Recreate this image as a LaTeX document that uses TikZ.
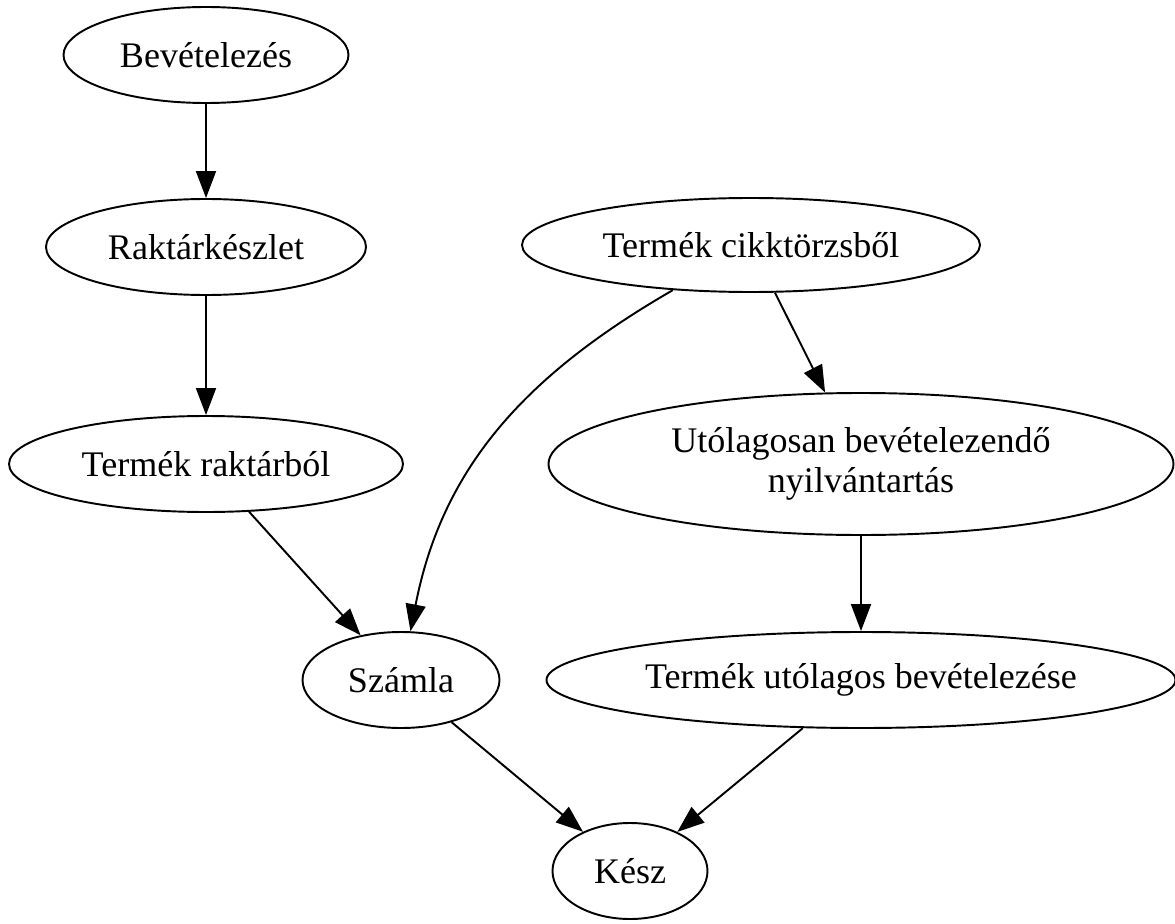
\documentclass[tikz,border=0pt]{standalone}
\usepackage{fontspec}
\setmainfont{Liberation Serif}
\usetikzlibrary{positioning,arrows.meta,shapes.geometric}
\tikzset{
  flowarrow/.style={-{Triangle[length=5.4mm, width=4.0mm]}, line width=1.1pt},
  stagenode/.style={draw, ellipse, line width=1.1pt, inner sep=0pt, minimum height=1.92cm, align=center, font=\fontsize{20.5}{22.5}\selectfont}
}

\begin{document}
\begin{tikzpicture}
  \useasboundingbox (0,0) rectangle (23.5,18.46);
  \node[stagenode, minimum width=5.7cm] (bev) at (4.12,17.36) {Bevételezés};
  \node[stagenode, minimum width=6.4cm] (rak) at (4.12,13.52) {Raktárkészlet};
  \node[stagenode, minimum width=9.16cm, minimum height=1.88cm] (cikk) at (15.02,13.56) {Termék cikktörzsből};
  \node[stagenode, minimum width=7.88cm] (trak) at (4.12,9.18) {Termék raktárból};
  \node[stagenode, minimum width=12.5cm, minimum height=2.84cm] (utol) at (17.22,9.18) {Utólagosan bevételezendő\\nyilvántartás};
  \node[stagenode, minimum width=3.94cm] (szamla) at (8.02,4.86) {Számla};
  \node[stagenode, minimum width=12.58cm] (tub) at (17.22,4.86) {Termék utólagos bevételezése};
  \node[stagenode, minimum width=3.1cm] (kesz) at (12.6,1.04) {Kész};
  \draw[flowarrow] (bev) -- (rak);
  \draw[flowarrow] (rak) -- (trak);
  \draw[flowarrow] (trak) -- (szamla);
  \draw[flowarrow] (cikk) to[out=210, in=79] (szamla);
  \draw[flowarrow] (cikk) -- (utol);
  \draw[flowarrow] (utol) -- (tub);
  \draw[flowarrow] (szamla) -- (kesz);
  \draw[flowarrow] (tub) -- (kesz);
\end{tikzpicture}
\end{document}
